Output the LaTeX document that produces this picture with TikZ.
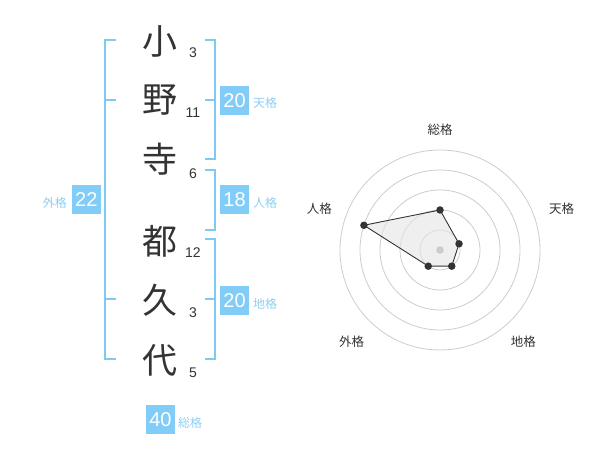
\documentclass[tikz,border=0pt]{standalone}
\usepackage{fontspec}
\usetikzlibrary{calc}
\setmainfont{Liberation Sans}
\newfontfamily\jp{Noto Sans CJK JP}
\definecolor{brk}{HTML}{7FCAF5}
\definecolor{boxc}{HTML}{82CCF8}
\definecolor{lbl}{HTML}{8CCFF3}
\definecolor{ink}{HTML}{333333}
\definecolor{ring}{HTML}{CCCCCC}
\tikzset{
  kanji/.style={inner sep=0pt, text=ink, font=\jp\fontsize{35}{35}\selectfont},
  strokes/.style={inner sep=0pt, text=ink, font=\fontsize{14}{14}\selectfont},
  valbox/.style={fill=boxc, text=white, minimum width=29pt, minimum height=29pt, inner sep=0pt, font=\fontsize{20}{20}\selectfont},
  kaku/.style={inner sep=0pt, text=lbl, font=\jp\fontsize{12}{12}\selectfont},
  bracket/.style={draw=brk, line width=2pt},
  rlabel/.style={inner sep=0pt, text=ink, font=\jp\fontsize{12.5}{12.5}\selectfont},
  ringline/.style={draw=ring, line width=0.8pt},
  dot/.style={circle, fill=ink, inner sep=0pt, minimum size=7.5pt},
}
\begin{document}
\begin{tikzpicture}[x=1pt,y=1pt]
\useasboundingbox (0,0) rectangle (600,470);
% kanji
\node[kanji] (k1) at (160,429) {小};
\node[kanji] (k2) at (160,370) {野};
\node[kanji] (k3) at (160,311) {寺};
\node[kanji] (k4) at (160,229) {都};
\node[kanji] (k5) at (160,170) {久};
\node[kanji] (k6) at (160,110) {代};
% strokes
\node[strokes] (s1) at (193,417.3) {3};
\node[strokes] (s2) at (193,357.3) {11};
\node[strokes] (s3) at (193,296.7) {6};
\node[strokes] (s4) at (193,217.3) {12};
\node[strokes] (s5) at (193,157.3) {3};
\node[strokes] (s6) at (193,97.3) {5};
% outer bracket (gaikaku)
\draw[bracket] (116,430) -- (105,430) -- (105,110.7) -- (116,110.7);
\draw[bracket] (105,370) -- (116,370);
\draw[bracket] (105,170.7) -- (116,170.7);
% tenkaku bracket
\draw[bracket] (205,430) -- (214.5,430) -- (214.5,310.7) -- (205,310.7);
\draw[bracket] (214.5,370) -- (205,370);
% jinkaku bracket
\draw[bracket] (205,300) -- (214.5,300) -- (214.5,240) -- (205,240);
% chikaku bracket
\draw[bracket] (205,230.7) -- (214.5,230.7) -- (214.5,110.7) -- (205,110.7);
\draw[bracket] (214.5,170.7) -- (205,170.7);
% value boxes
\node[valbox] (b1) at (234.6,369.7) {20};
\node[kaku, anchor=west] (l1) at (253,366.7) {天格};
\node[valbox] (b2) at (234.6,270) {18};
\node[kaku, anchor=west] (l2) at (253,267) {人格};
\node[valbox] (b3) at (234.6,169.5) {20};
\node[kaku, anchor=west] (l3) at (253,166.5) {地格};
\node[valbox] (b4) at (86.3,270) {22};
\node[kaku, anchor=east] (l4) at (67,267) {外格};
\node[valbox] (b5) at (160.5,50.5) {40};
\node[kaku, anchor=west] (l5) at (178,47.5) {総格};
% radar
\coordinate (c) at (440,220);
\foreach \r in {20,40,60,80,100} \draw[ringline] (c) circle[radius=\r];
\coordinate (p1) at ($(c)+(90:40)$);
\coordinate (p2) at ($(c)+(18:20)$);
\coordinate (p3) at ($(c)+(-54:20)$);
\coordinate (p4) at ($(c)+(-126:20)$);
\coordinate (p5) at ($(c)+(162:80)$);
\fill[black!10, fill opacity=0.6] (p1) -- (p2) -- (p3) -- (p4) -- (p5) -- cycle;
\draw[ink, line width=0.9pt] (p1) -- (p2) -- (p3) -- (p4) -- (p5) -- cycle;
\fill[ring] (c) circle[radius=3.8];
\foreach \p in {p1,p2,p3,p4,p5} \node[dot] at (\p) {};
\node[rlabel] (r1) at (440,340) {総格};
\node[rlabel] (r2) at (561.7,261.7) {天格};
\node[rlabel] (r3) at (523.3,128.3) {地格};
\node[rlabel] (r4) at (351.7,128.3) {外格};
\node[rlabel] (r5) at (319.3,261.7) {人格};
\end{tikzpicture}
\end{document}
